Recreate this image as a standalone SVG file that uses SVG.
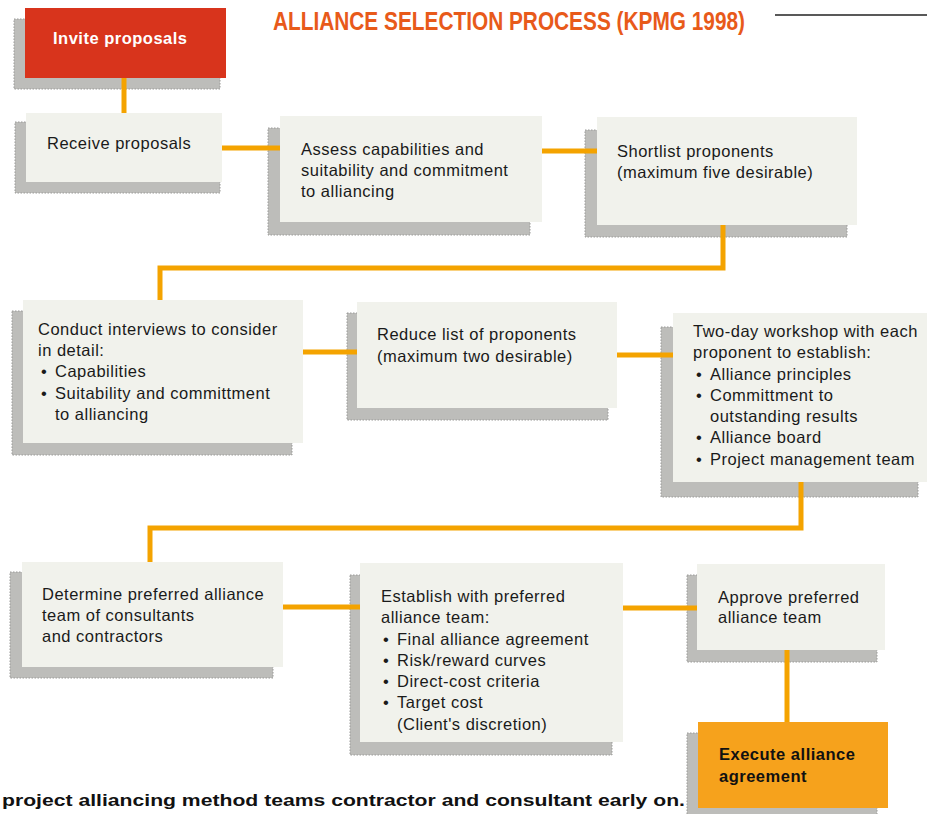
<svg xmlns="http://www.w3.org/2000/svg" width="927" height="814" viewBox="0 0 927 814">
<style>
  .sh { fill: #bdbdba; stroke: #9a9a98; stroke-width: 1; stroke-dasharray: 1.5 1.5; }
  .bx { fill: #f1f2ec; }
  .t { font-family: "Liberation Sans", Arial, sans-serif; font-size: 16.5px; letter-spacing: 0.5px; fill: #1a1a1a; }
  .tb { font-family: "Liberation Sans", Arial, sans-serif; font-size: 16.5px; font-weight: bold; letter-spacing: 0.5px; fill: #111; }
  .con { fill: none; stroke: #f4a300; stroke-width: 5; stroke-linejoin: miter; stroke-linecap: butt; }
</style>
<rect width="927" height="814" fill="#ffffff"/>

<text x="273" y="30" textLength="472" lengthAdjust="spacingAndGlyphs" font-family="'Liberation Sans', Arial, sans-serif" font-size="25" font-weight="bold" fill="#e85a1a">ALLIANCE SELECTION PROCESS (KPMG 1998)</text>
<line x1="775" y1="15" x2="927" y2="15" stroke="#222" stroke-width="1.5"/>

<g id="invite">
  <rect class="sh" x="14" y="19" width="206" height="70"/>
  <rect x="25" y="8" width="201" height="70" fill="#d8341c"/>
  <text x="53" y="44" class="tb" fill="#ffffff" style="fill:#ffffff">Invite proposals</text>
</g>

<g id="receive">
  <rect class="sh" x="15" y="122" width="205" height="71"/>
  <rect class="bx" x="26" y="113" width="196" height="69"/>
  <text x="47" y="149" class="t">Receive proposals</text>
</g>

<g id="assess">
  <rect class="sh" x="268" y="128" width="262" height="107"/>
  <rect class="bx" x="280" y="116" width="262" height="106"/>
  <text class="t"><tspan x="301" y="155">Assess capabilities and</tspan><tspan x="301" y="176">suitability and commitment</tspan><tspan x="301" y="197">to alliancing</tspan></text>
</g>

<g id="shortlist">
  <rect class="sh" x="585" y="130" width="262" height="107"/>
  <rect class="bx" x="597" y="117" width="260" height="108"/>
  <text class="t"><tspan x="617" y="157">Shortlist proponents</tspan><tspan x="617" y="178">(maximum five desirable)</tspan></text>
</g>

<g id="conduct">
  <rect class="sh" x="12" y="311" width="280" height="144"/>
  <rect class="bx" x="23" y="300" width="280" height="143"/>
  <text class="t"><tspan x="38" y="335">Conduct interviews to consider</tspan><tspan x="38" y="356">in detail:</tspan><tspan x="41" y="377">•</tspan><tspan x="55" y="377">Capabilities</tspan><tspan x="41" y="399">•</tspan><tspan x="55" y="399">Suitability and committment</tspan><tspan x="55" y="420">to alliancing</tspan></text>
</g>

<g id="reduce">
  <rect class="sh" x="347" y="313" width="261" height="107"/>
  <rect class="bx" x="357" y="302" width="260" height="106"/>
  <text class="t"><tspan x="377" y="340">Reduce list of proponents</tspan><tspan x="377" y="362">(maximum two desirable)</tspan></text>
</g>

<g id="workshop">
  <rect class="sh" x="661" y="327" width="257" height="170"/>
  <rect class="bx" x="673" y="313" width="254" height="169"/>
  <text class="t"><tspan x="693" y="337">Two-day workshop with each</tspan><tspan x="693" y="358">proponent to establish:</tspan><tspan x="696" y="380">•</tspan><tspan x="710" y="380">Alliance principles</tspan><tspan x="696" y="401">•</tspan><tspan x="710" y="401">Committment to</tspan><tspan x="710" y="422">outstanding results</tspan><tspan x="696" y="443">•</tspan><tspan x="710" y="443">Alliance board</tspan><tspan x="696" y="465">•</tspan><tspan x="710" y="465">Project management team</tspan></text>
</g>

<g id="determine">
  <rect class="sh" x="10" y="572" width="263" height="106"/>
  <rect class="bx" x="22" y="562" width="261" height="105"/>
  <text class="t"><tspan x="42" y="600">Determine preferred alliance</tspan><tspan x="42" y="621">team of consultants</tspan><tspan x="42" y="642">and contractors</tspan></text>
</g>

<g id="establish">
  <rect class="sh" x="350" y="575" width="262" height="180"/>
  <rect class="bx" x="360" y="563" width="263" height="179"/>
  <text class="t"><tspan x="381" y="602">Establish with preferred</tspan><tspan x="381" y="623">alliance team:</tspan><tspan x="383" y="645">•</tspan><tspan x="397" y="645">Final alliance agreement</tspan><tspan x="383" y="666">•</tspan><tspan x="397" y="666">Risk/reward curves</tspan><tspan x="383" y="687">•</tspan><tspan x="397" y="687">Direct-cost criteria</tspan><tspan x="383" y="708">•</tspan><tspan x="397" y="708">Target cost</tspan><tspan x="397" y="730">(Client's discretion)</tspan></text>
</g>

<g id="approve">
  <rect class="sh" x="687" y="575" width="190" height="87"/>
  <rect class="bx" x="697" y="564" width="188" height="86"/>
  <text class="t"><tspan x="718" y="603">Approve preferred</tspan><tspan x="718" y="623">alliance team</tspan></text>
</g>

<g id="execute">
  <rect class="sh" x="687" y="733" width="190" height="86"/>
  <rect x="698" y="722" width="190" height="86" fill="#f6a21c"/>
  <text class="tb"><tspan x="719" y="760">Execute alliance</tspan><tspan x="719" y="782">agreement</tspan></text>
</g>

<g id="connectors">
  <path class="con" d="M124 78 V113"/>
  <path class="con" d="M222 148 H280"/>
  <path class="con" d="M542 151 H597"/>
  <path class="con" d="M723 225 V268 H160 V300"/>
  <path class="con" d="M303 352 H357"/>
  <path class="con" d="M617 355 H673"/>
  <path class="con" d="M801 482 V528 H150 V562"/>
  <path class="con" d="M283 607 H360"/>
  <path class="con" d="M623 608 H697"/>
  <path class="con" d="M787 650 V722"/>
</g>

<text x="2" y="806" textLength="683" lengthAdjust="spacingAndGlyphs" font-family="'Liberation Sans', Arial, sans-serif" font-size="17" font-weight="bold" fill="#111">project alliancing method teams contractor and consultant early on.</text>
</svg>
